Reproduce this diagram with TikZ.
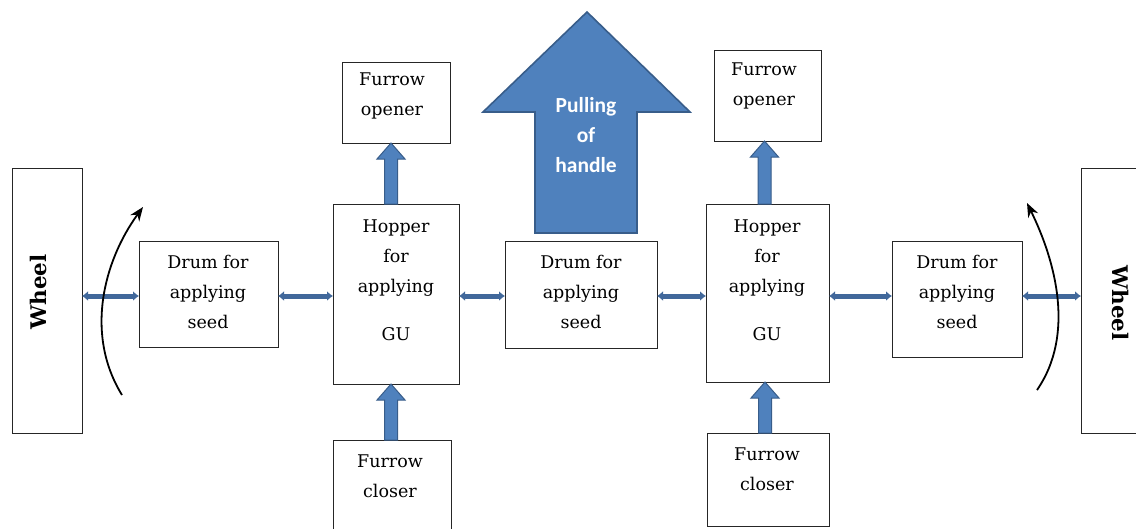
\documentclass[tikz,border=0pt]{standalone}
\usepackage{fontspec}
\setmainfont{DejaVu Serif}
\newfontfamily\carlito{Carlito}
\usetikzlibrary{arrows.meta,calc}
\definecolor{linkblue}{RGB}{65,104,155}
\definecolor{arrfill}{HTML}{4F81BD}
\definecolor{arrdraw}{HTML}{385D8A}
\begin{document}
\begin{tikzpicture}[x=1pt,y=-1pt,
  box/.style={draw=black!85, line width=0.9pt, fill=white, inner sep=0pt, outer sep=0pt, anchor=north west},
  lbl/.style={align=center, font=\fontsize{17.5}{30}\selectfont, inner sep=0pt},
  wheeltext/.style={font=\fontsize{21.5}{24}\selectfont\bfseries, inner sep=0pt},
  link/.style={line width=5pt, draw=linkblue, {Latex[width=10pt,length=6pt]}-{Latex[width=10pt,length=6pt]}},
  blockarrow/.style={fill=arrfill, draw=arrdraw, line width=1pt,
    to path={let \p1=(\tikztostart), \p2=(\tikztotarget) in
      (\x1-6.5pt,\y1) -- (\x1-6.5pt,\y2-16pt) -- (\x1-14pt,\y2-16pt) -- (\x1,\y2)
      -- (\x1+14pt,\y2-16pt) -- (\x1+6.5pt,\y2-16pt) -- (\x1+6.5pt,\y1) -- cycle}},
  turn/.style={line width=1.8pt, black, -{Stealth[length=14pt,width=11pt]}}
]
\fill[white] (0,0) rectangle (1136,528);
\useasboundingbox (0,0) rectangle (1136,528);

% boxes
\node[box, minimum width=70pt, minimum height=265pt] (wl) at (12,168) {};
\node[box, minimum width=139pt, minimum height=106pt] (d1) at (139,241) {};
\node[box, minimum width=126pt, minimum height=180pt] (h1) at (333,204) {};
\node[box, minimum width=108pt, minimum height=81pt] (o1) at (342,62) {};
\node[box, minimum width=118pt, minimum height=105pt] (c1) at (333,440) {};
\node[box, minimum width=152pt, minimum height=107pt] (d2) at (505,241) {};
\node[box, minimum width=123pt, minimum height=178pt] (h2) at (706,204) {};
\node[box, minimum width=107pt, minimum height=91pt] (o2) at (714,50) {};
\node[box, minimum width=122pt, minimum height=93pt] (c2) at (707,433) {};
\node[box, minimum width=130pt, minimum height=116pt] (d3) at (892,241) {};
\node[box, minimum width=70pt, minimum height=265pt] (wr) at (1081,168) {};

% texts
\node[wheeltext, rotate=90] (wlt) at (38,292) {Wheel};
\node[wheeltext, rotate=-90] (wrt) at (1121,303) {Wheel};
\node[lbl] (d1t) at (208,292) {Drum for\\applying\\seed};
\node[lbl] (d2t) at (581,292) {Drum for\\applying\\seed};
\node[lbl] (d3t) at (957,292) {Drum for\\applying\\seed};
\node[lbl] (h1t) at (396,280) {Hopper\\for\\applying\\[18pt]GU};
\node[lbl] (h2t) at (767,280) {Hopper\\for\\applying\\[18pt]GU};
\node[lbl] (o1t) at (392,96) {Furrow\\opener};
\node[lbl] (o2t) at (764,86) {Furrow\\opener};
\node[lbl] (c1t) at (390,476) {Furrow\\closer};
\node[lbl] (c2t) at (767,469) {Furrow\\closer};

% horizontal links
\draw[link] (wl.east |- 0,296) -- (d1.west |- 0,296);
\draw[link] (d1.east |- 0,296) -- (h1.west |- 0,296);
\draw[link] (h1.east |- 0,296) -- (d2.west |- 0,296);
\draw[link] (d2.east |- 0,296) -- (h2.west |- 0,296);
\draw[link] (h2.east |- 0,296) -- (d3.west |- 0,296);
\draw[link] (d3.east |- 0,296) -- (wr.west |- 0,296);

% block arrows
\draw[blockarrow] ([xshift=-5pt]h1.north) to (o1.south);
\draw[blockarrow] ([xshift=-1pt]c1.north) to (h1.south);
\draw[blockarrow] ([xshift=-3pt]h2.north) to (o2.south);
\draw[blockarrow] ([xshift=-3pt]c2.north) to (h2.south);

% big arrow
\draw[fill=arrfill, draw=arrdraw, line width=1.6pt]
  (535,233) -- (535,112) -- (483,112) -- (587,12) -- (690,112) -- (637,112) -- (637,233) -- cycle;
\node[align=center, text=white, font=\carlito\bfseries\fontsize{21.5}{30}\selectfont, inner sep=0pt] (pull) at (586,135) {Pulling\\of\\handle};

% rotation arrows
\coordinate (ls) at (122,395);
\coordinate (le) at (143,207);
\coordinate (rs) at (1037,390);
\coordinate (re) at (1027,203);
\draw[turn] (ls) .. controls (85,335) and (103,262) .. (le);
\draw[turn] (rs) .. controls (1075,335) and (1056,262) .. (re);
\end{tikzpicture}
\end{document}
